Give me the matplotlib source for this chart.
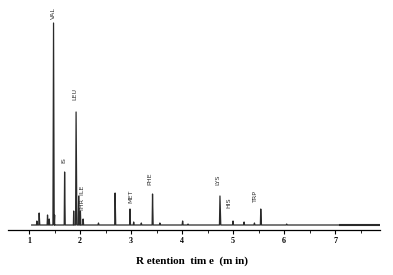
import matplotlib
matplotlib.use("Agg")
import matplotlib.pyplot as plt
import numpy as np

# peak retention times (min) and heights (arbitrary detector units)
peak_t = [1.152, 1.197, 1.361, 1.394, 1.479, 1.50, 1.696, 1.874, 1.921, 1.972,
          2.006, 2.059, 2.36, 2.686, 2.978, 3.05, 3.20, 3.42, 3.564, 4.01,
          4.116, 4.742, 4.998, 5.215, 5.418, 5.542, 6.05]
peak_h = [4, 12, 10, 6, 202, 10, 53, 14, 113, 29,
          14, 6, 2, 32, 16, 3, 2, 31, 2, 4,
          1, 29, 4, 3, 2, 16, 1]
# peak half widths (left, right) in min
peak_wl = [0.008, 0.008, 0.008, 0.008, 0.012, 0.008, 0.008, 0.006, 0.010, 0.008,
           0.006, 0.008, 0.01, 0.008, 0.008, 0.008, 0.01, 0.008, 0.01, 0.01,
           0.01, 0.010, 0.01, 0.01, 0.01, 0.008, 0.01]
peak_wr = [0.010, 0.012, 0.010, 0.010, 0.022, 0.010, 0.012, 0.008, 0.016, 0.010,
           0.008, 0.010, 0.01, 0.012, 0.010, 0.010, 0.01, 0.012, 0.01, 0.01,
           0.01, 0.016, 0.01, 0.01, 0.01, 0.014, 0.01]

# labels
lab_text = ["VAL", "IS", "LEU", "THR  ILE", "MET", "PHE", "LYS", "HIS", "TRP"]
lab_t = [1.483, 1.69, 1.888, 2.055, 2.992, 3.377, 4.698, 4.925, 5.438]
lab_y = [206, 62, 125, 13, 22, 40, 40, 17, 22]

t_start, t_end = 1.05, 7.88
noise_t = [7.1, 7.88]

# build chromatogram trace from the peak table
xs = [t_start]
ys = [0]
for t, h, wl, wr in zip(peak_t, peak_h, peak_wl, peak_wr):
    xs += [t - wl, t, t + wr]
    ys += [0, h, 0]
xs.append(t_end)
ys.append(0)
order = np.argsort(xs, kind="stable")
xs = np.array(xs)[order]
ys = np.array(ys)[order]

fig = plt.figure(figsize=(3.93, 2.75), dpi=100)
ax = fig.add_axes([8/393, 45/275, 372/393, 230/275])

ax.plot(xs, ys, color="#2a2a2a", lw=0.9)
ax.plot(noise_t, [0, 0], color="#2a2a2a", lw=1.5)

for s, t, y in zip(lab_text, lab_t, lab_y):
    ax.text(t, y, s, rotation=90, ha="center", va="bottom",
            fontsize=4.6, color="#333333", family="DejaVu Sans")

ax.set_xlim(0.586, 7.88)
ax.set_ylim(-5, 225)
for sp in ["left", "right", "top"]:
    ax.spines[sp].set_visible(False)
ax.spines["bottom"].set_linewidth(0.9)
ax.set_yticks([])
ax.set_xticks(range(1, 8))
ax.set_xticks(np.arange(1.5, 7.6, 1.0), minor=True)
ax.tick_params(axis="x", which="major", direction="out", length=3, width=0.8, pad=2)
ax.tick_params(axis="x", which="minor", direction="out", length=2, width=0.6)
for lb in ax.get_xticklabels():
    lb.set_fontfamily("Liberation Serif")
    lb.set_fontweight("bold")
    lb.set_fontsize(5.8)

ax.set_xlabel("R etention  tim e  (m in)", fontfamily="Liberation Serif",
              fontweight="bold", fontsize=8, labelpad=7)
ax.xaxis.set_label_coords((192 - 8) / 372, -26 / 230)

fig.savefig("out.png", dpi=100)
